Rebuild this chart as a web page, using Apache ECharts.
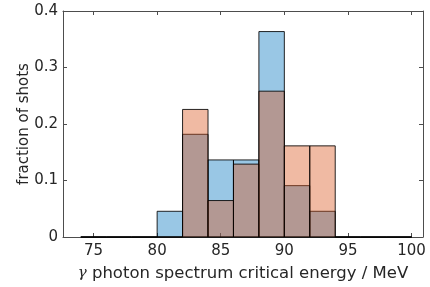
<!DOCTYPE html>
<html>
<head>
<meta charset="utf-8">
<script src="https://cdn.jsdelivr.net/npm/echarts@6/dist/echarts.min.js"></script>
<style>
html, body { margin: 0; padding: 0; background: #fff; }
#chart { width: 430px; height: 287px; }
</style>
</head>
<body>
<div id="chart"></div>
<script>
// bin edges (MeV), 2 MeV wide
const binEdges = [74, 76, 78, 80, 82, 84, 86, 88, 90, 92, 94, 96, 98, 100];
// fraction of shots per bin
const blueFrac = [0, 0, 0, 0.0455, 0.1818, 0.1364, 0.1364, 0.3636, 0.0909, 0.0455, 0, 0, 0];
const orangeFrac = [0, 0, 0, 0, 0.2258, 0.0645, 0.1290, 0.2581, 0.1613, 0.1613, 0, 0, 0];
const xTicks = [75, 80, 85, 90, 95, 100];
const yTicks = [0, 0.1, 0.2, 0.3, 0.4];

function toBins (vals) {
    let out = [];
    for (let i = 0; i < vals.length; i++) {
        out.push([binEdges[i], binEdges[i + 1], vals[i]]);
    }
    return out;
}

function histItem (color) {
    return function (params, api) {
        let p0 = api.coord([api.value(0), api.value(2)]);
        let p1 = api.coord([api.value(1), 0]);
        return {
            type: 'rect',
            shape: { x: p0[0], y: p0[1], width: p1[0] - p0[0], height: p1[1] - p0[1] },
            style: { fill: color, stroke: 'rgba(0,0,0,0.85)', lineWidth: 1 }
        };
    };
}

const axisColor = '#4d4d4d';
const textColor = '#262626';

let chart = echarts.init(document.getElementById('chart'));
let option = {
    animation: false,
    grid: { left: 63, right: 7, top: 11, bottom: 50 },
    xAxis: [
        {
            type: 'value', min: 72.6, max: 100.9,
            axisLine: { show: true, onZero: false, lineStyle: { color: axisColor } },
            axisTick: { show: true, inside: true, length: 4, customValues: xTicks, lineStyle: { color: axisColor } },
            axisLabel: { customValues: xTicks, color: textColor, fontSize: 15, fontFamily: 'DejaVu Sans', margin: 7 },
            splitLine: { show: false },
            name: '{g|γ} photon spectrum critical energy / MeV',
            nameLocation: 'middle',
            nameGap: 28,
            nameMoveOverlap: false,
            nameTextStyle: {
                color: textColor, fontSize: 16.5, fontFamily: 'DejaVu Sans',
                rich: { g: { fontFamily: 'DejaVu Serif', fontStyle: 'italic', fontSize: 15, color: textColor } }
            }
        },
        {
            type: 'value', min: 72.6, max: 100.9, position: 'top',
            axisLine: { show: true, onZero: false, lineStyle: { color: axisColor } },
            axisTick: { show: true, inside: true, length: 4, customValues: xTicks, lineStyle: { color: axisColor } },
            axisLabel: { show: false },
            splitLine: { show: false }
        }
    ],
    yAxis: [
        {
            type: 'value', min: 0, max: 0.4, interval: 0.1,
            axisLine: { show: true, onZero: false, lineStyle: { color: axisColor } },
            axisTick: { show: true, inside: true, length: 4, lineStyle: { color: axisColor } },
            axisLabel: {
                color: textColor, fontSize: 15, fontFamily: 'DejaVu Sans', margin: 5,
                formatter: function (v) { return v === 0 ? '0' : v.toFixed(1); }
            },
            splitLine: { show: false },
            name: 'fraction of shots',
            nameLocation: 'middle',
            nameGap: 31,
            nameMoveOverlap: false,
            nameTextStyle: { color: textColor, fontSize: 15, fontFamily: 'DejaVu Sans' }
        },
        {
            type: 'value', min: 0, max: 0.4, interval: 0.1, position: 'right',
            axisLine: { show: true, onZero: false, lineStyle: { color: axisColor } },
            axisTick: { show: true, inside: true, length: 4, lineStyle: { color: axisColor } },
            axisLabel: { show: false },
            splitLine: { show: false }
        }
    ],
    series: [
        {
            type: 'custom', name: 'blue',
            renderItem: histItem('rgba(0,114,189,0.4)'),
            encode: { x: [0, 1], y: 2 },
            data: toBins(blueFrac)
        },
        {
            type: 'custom', name: 'orange',
            renderItem: histItem('rgba(217,83,25,0.4)'),
            encode: { x: [0, 1], y: 2 },
            data: toBins(orangeFrac)
        }
    ]
};
chart.setOption(option);
</script>
</body>
</html>
